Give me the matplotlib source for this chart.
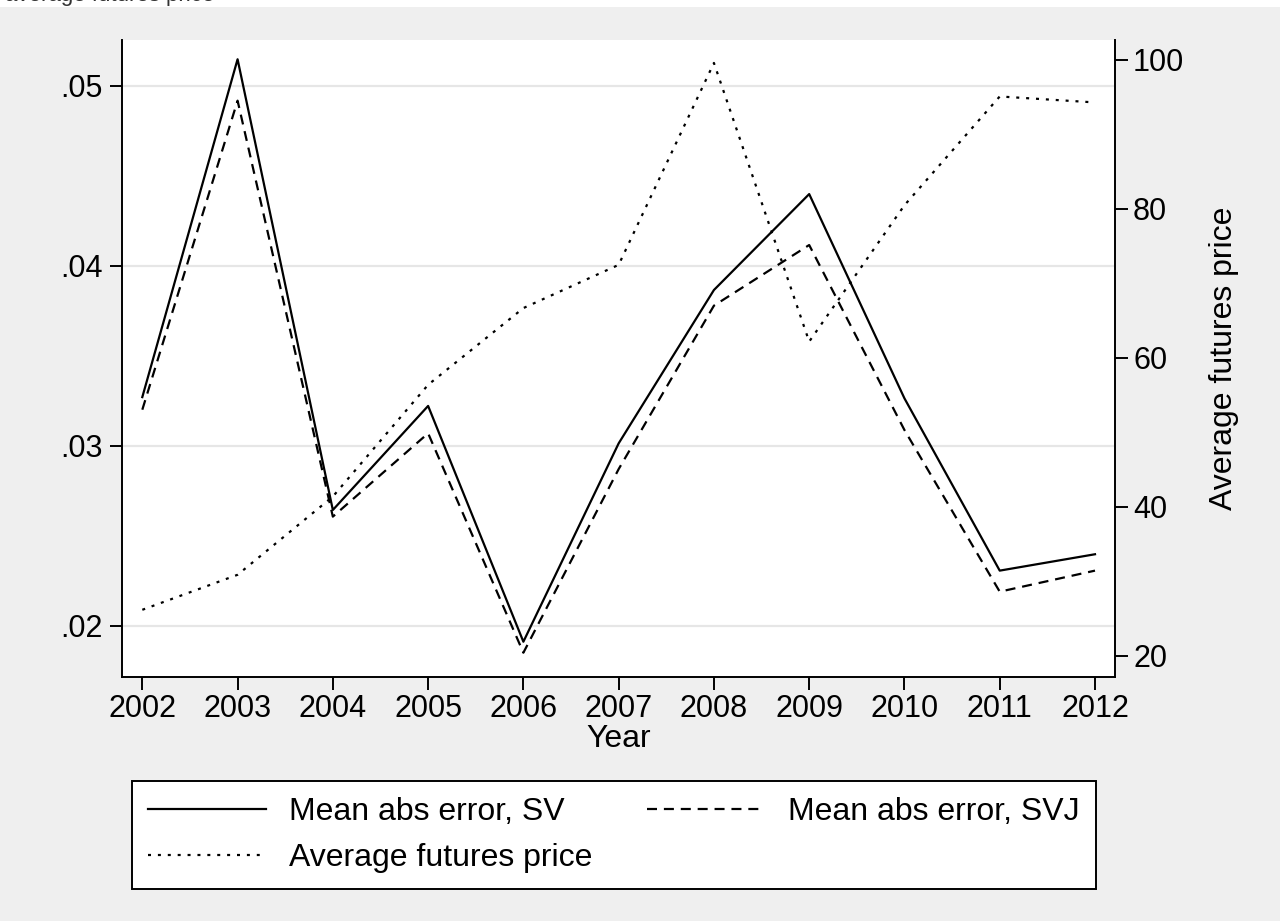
import matplotlib as mpl
mpl.use('Agg')
import matplotlib.pyplot as plt
import matplotlib.patches as mpatches
import numpy as np

plt.rcParams['font.family'] = ['Liberation Sans', 'DejaVu Sans']

# data
years = [2002, 2003, 2004, 2005, 2006, 2007, 2008, 2009, 2010, 2011, 2012]
mae_sv = [0.0327, 0.05147, 0.02643, 0.03221, 0.01911, 0.03013, 0.03865, 0.04398, 0.03263, 0.02306, 0.02397]
mae_svj = [0.0320, 0.04917, 0.02606, 0.03069, 0.0185, 0.0287, 0.03778, 0.04115, 0.03087, 0.02189, 0.02306]
futures = [26.2, 30.9, 41.4, 56.4, 66.7, 72.5, 99.6, 62.2, 80.5, 95.1, 94.3]

left_ticks = [0.02, 0.03, 0.04, 0.05]
left_labels = ['.02', '.03', '.04', '.05']
right_ticks = [20, 40, 60, 80, 100]

bg = '#efefef'
fs = 22
fs_title = 23

fig = plt.figure(figsize=(12.8, 9.21), dpi=100, facecolor=bg)
ax = fig.add_axes([122.3 / 1280, 244.3 / 921, (1115 - 122.3) / 1280, (676.7 - 40) / 921])
ax.set_facecolor('white')

# white strip with clipped text at the very top
fig.patches.append(mpatches.Rectangle((0, 1 - 7 / 921), 1, 7 / 921, transform=fig.transFigure,
                                      facecolor='white', edgecolor='none', zorder=0))
fig.text(0.004, 1 - 1.5 / 921, 'average futures price', fontsize=16, color='#333333',
         va='baseline', ha='left')

lw = 1.6
l1, = ax.plot(years, mae_sv, color='black', lw=lw, linestyle='-', label='Mean abs error, SV')
l2, = ax.plot(years, mae_svj, color='black', lw=lw, linestyle=(0, (4.5, 3.1)), label='Mean abs error, SVJ')

ax.set_xlim(2001.79, 2012.21)
ax.set_ylim(0.017167, 0.05254)
ax.set_yticks(left_ticks)
ax.set_yticklabels(left_labels)
ax.set_xticks(years)
ax.set_xticklabels([str(y) for y in years])
ax.tick_params(axis='both', labelsize=fs, length=9, width=1.4, color='black', direction='out')
ax.tick_params(axis='y', pad=5)
ax.tick_params(axis='x', pad=3.5)
ax.grid(axis='y', color='#e6e6e6', lw=1.6)
ax.set_axisbelow(True)
ax.set_xlabel('Year', fontsize=fs_title, labelpad=0)

ax2 = ax.twinx()
l3, = ax2.plot(years, futures, color='black', lw=lw, linestyle=(0, (1.35, 3.1)), label='Average futures price')
ax2.set_ylim(17.22, 102.68)
ax2.set_yticks(right_ticks)
ax2.tick_params(axis='y', labelsize=fs, length=9, width=1.4, direction='out', pad=4)
ax2.set_ylabel('Average futures price', fontsize=fs_title, labelpad=18)

for a in (ax, ax2):
    a.spines['top'].set_visible(False)
    for s in ('left', 'bottom', 'right'):
        a.spines[s].set_linewidth(1.4)
ax.spines['right'].set_visible(False)
ax2.spines['left'].set_visible(False)
ax2.spines['bottom'].set_visible(False)

leg = fig.legend(handles=[l1, l3, l2], ncol=2, loc='upper center',
                 bbox_to_anchor=(614 / 1280, (921 - 781) / 921), borderaxespad=0,
                 fontsize=fs_title, handlelength=3.7, handletextpad=0.72, columnspacing=1.7,
                 labelspacing=0.5, borderpad=0.5, fancybox=False, framealpha=1,
                 edgecolor='black', facecolor='white')
leg.get_frame().set_linewidth(1.4)

fig.savefig('out.png', dpi=100, facecolor=bg)
